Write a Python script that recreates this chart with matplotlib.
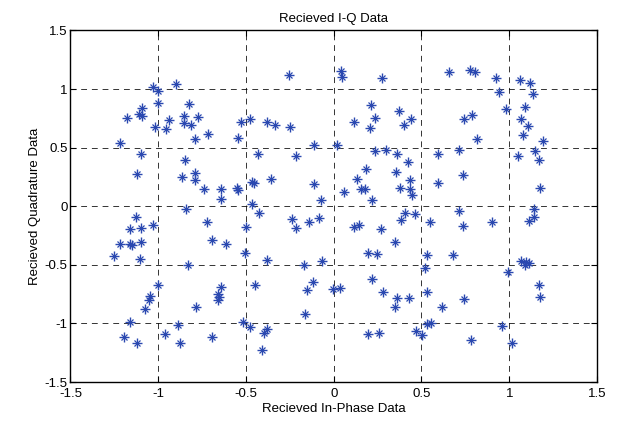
import matplotlib

matplotlib.use("Agg", force=True)
import matplotlib.pyplot as plt

plt.rcParams["font.family"] = ["Liberation Sans", "DejaVu Sans"]

# received I-Q samples
i_data = [
    -1.028, -1.004, -0.899, -1.000, -1.095, -1.108, -1.093, -1.177, -0.827, -0.852,
    -0.772, -0.941, -0.852, -0.814, -1.019, -0.956, -0.789, -0.715, -0.546, -1.217,
    -0.256, 0.040, 0.047, 0.274, -0.526, -0.477, -0.382, -0.332, -0.247, -0.112,
    0.021, 0.213, 0.236, 0.205, 0.116, 0.370, 0.401, 0.443,
    0.659, 0.778, 0.803, 0.923, 1.063, 1.119, 0.939, 1.138, 0.979, 1.090,
    0.787, 0.743, 1.065, 1.107, 1.079, 1.195, 0.814,
    -1.099, -1.122, -0.846, -0.863, -0.793, -0.789, -0.741, -0.645, -0.643, -0.552,
    -0.545, -0.839, -1.129, -1.163, -1.099, -1.030, -0.720, -1.218, -1.161, -1.150,
    -1.099, -0.692, -0.616, -1.252, -1.104, -0.833,
    0.234, 0.300, 0.359, -0.431, -0.215, 0.424, 0.186, 0.357, 0.131, 0.433,
    -0.359, -0.465, -0.455, -0.112, 0.158, 0.177, 0.059, 0.380, 0.433, 0.448,
    -0.070, 0.218, -0.463, -0.427, 0.405, 0.465, 0.384, -0.236, -0.084, -0.139,
    -0.215, -0.498, 0.142, 0.116, 0.272, 0.349, -0.503, -0.380, 0.198, 0.249,
    -0.167, -0.065,
    0.596, 0.715, 1.050, 1.149, 1.170, 0.738, 0.596, 1.174, 0.711, 1.140,
    1.140, 1.113, 0.548, 0.738, 0.904, 0.534, 0.680, 1.069, 1.098, 1.113, 1.088,
    -1.000, -0.645, -1.047, -1.053, -0.662, -0.654, -0.662, -1.074, -0.783, -1.160,
    -0.888, -0.962, -1.194, -1.122, -0.875, -0.692,
    -0.448, -0.116, -0.154, -0.004, 0.036, 0.218, 0.283, 0.363, 0.431, 0.351,
    -0.161, -0.519, -0.477, -0.382, -0.395, -0.406, 0.198, 0.260, 0.470,
    0.519, 0.994, 1.172, 1.174, 0.529, 0.743, 0.617, 0.529, 0.554, 0.504,
    0.960, 0.784, 1.015,
]
q_data = [
    1.017, 0.980, 1.040, 0.878, 0.841, 0.787, 0.773, 0.753, 0.869, 0.773,
    0.764, 0.736, 0.708, 0.693, 0.673, 0.662, 0.577, 0.614, 0.584, 0.543,
    1.119, 1.156, 1.102, 1.091, 0.719, 0.744, 0.719, 0.691, 0.676, 0.523,
    0.523, 0.861, 0.753, 0.665, 0.716, 0.815, 0.693, 0.742,
    1.145, 1.165, 1.145, 1.094, 1.077, 1.048, 0.972, 0.960, 0.830, 0.850,
    0.781, 0.744, 0.744, 0.685, 0.608, 0.560, 0.577,
    0.443, 0.273, 0.395, 0.250, 0.281, 0.227, 0.148, 0.148, 0.063, 0.155,
    0.135, -0.023, -0.096, -0.193, -0.184, -0.159, -0.136, -0.323, -0.318, -0.329,
    -0.306, -0.287, -0.323, -0.423, -0.451, -0.499,
    0.474, 0.483, 0.446, 0.443, 0.426, 0.375, 0.315, 0.290, 0.236, 0.222,
    0.230, 0.208, 0.200, 0.191, 0.145, 0.145, 0.122, 0.159, 0.145, 0.097,
    0.054, 0.054, 0.017, -0.054, -0.059, -0.068, -0.116, -0.113, -0.102, -0.136,
    -0.184, -0.181, -0.159, -0.181, -0.193, -0.306, -0.403, -0.457, -0.403, -0.409,
    -0.499, -0.471,
    0.446, 0.483, 0.426, 0.474, 0.395, 0.270, 0.202, 0.156, -0.037, -0.022,
    -0.096, -0.122, -0.136, -0.167, -0.136, -0.420, -0.420, -0.465, -0.477, -0.485, -0.499,
    -0.676, -0.688, -0.770, -0.804, -0.750, -0.773, -0.804, -0.875, -0.858, -0.991,
    -1.011, -1.091, -1.119, -1.168, -1.168, -1.119,
    -0.676, -0.648, -0.713, -0.705, -0.696, -0.622, -0.730, -0.779, -0.779, -0.858,
    -0.920, -0.991, -1.031, -1.045, -1.080, -1.227, -1.088, -1.080, -1.064,
    -0.529, -0.557, -0.671, -0.776, -0.733, -0.793, -0.861, -1.003, -0.994, -1.097,
    -1.020, -1.142, -1.170,
]
x_ticks = [-1.5, -1, -0.5, 0, 0.5, 1, 1.5]
y_ticks = [-1.5, -1, -0.5, 0, 0.5, 1, 1.5]
tick_labels = ["-1.5", "-1", "-0.5", "0", "0.5", "1", "1.5"]

fig = plt.figure(figsize=(6.22, 4.21), dpi=100)
ax = fig.add_axes([0.1133, 0.0926, 0.8465, 0.835])
# MATLAB-style asterisk: a plus with a smaller cross on top
ax.plot(i_data, q_data, linestyle="none", marker="+", markersize=7.5,
        color="#2a48b0", markeredgewidth=1.0, zorder=3)
ax.plot(i_data, q_data, linestyle="none", marker="x", markersize=4.5,
        color="#2a48b0", markeredgewidth=0.9, zorder=3)

ax.set_xlim(-1.5, 1.5)
ax.set_ylim(-1.5, 1.5)
ax.set_xticks(x_ticks)
ax.set_yticks(y_ticks)
ax.set_xticklabels(tick_labels)
ax.set_yticklabels(tick_labels)
ax.tick_params(direction="in", top=True, right=True, length=4, width=0.8,
               labelsize=9.5, pad=2)
ax.tick_params(axis="x", pad=4.5)
ax.grid(True, color="black", linestyle=(0, (6, 5)), linewidth=0.7, alpha=0.8)
for spine in ax.spines.values():
    spine.set_linewidth(1.0)

ax.set_title("Recieved I-Q Data", fontsize=9.5, pad=6)
ax.set_xlabel("Recieved In-Phase Data", fontsize=9.5, labelpad=2)
ax.set_ylabel("Recieved Quadrature Data", fontsize=9.5, labelpad=3)

fig.savefig("out.png", dpi=100)
plt.close(fig)
